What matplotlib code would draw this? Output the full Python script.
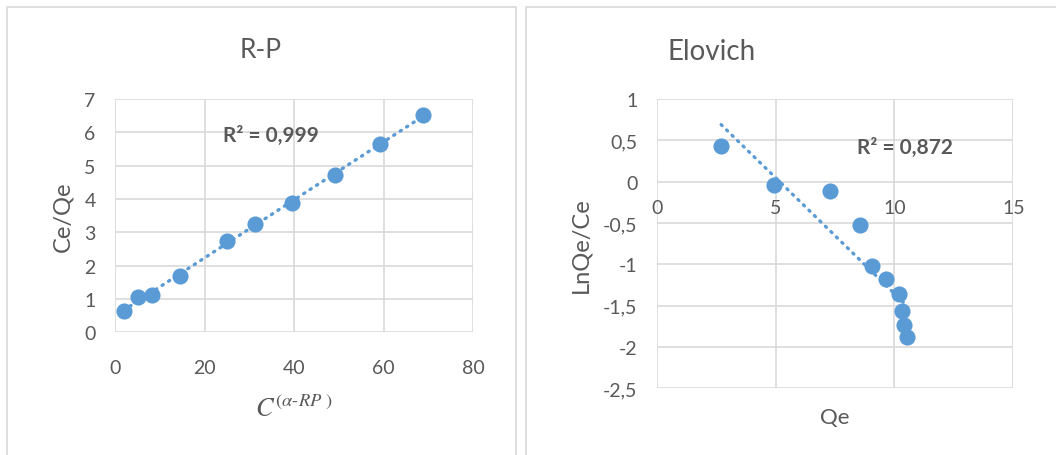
import numpy as np
import matplotlib
matplotlib.use('Agg')
import matplotlib.pyplot as plt
import matplotlib.patches as mpatches
from matplotlib.ticker import FuncFormatter

plt.rcParams['font.family'] = ['Lato', 'DejaVu Sans']
plt.rcParams['mathtext.fontset'] = 'stix'

# R-P data
rp_x = [1.9, 5.2, 8.2, 14.5, 25.0, 31.3, 39.5, 49.2, 59.1, 68.8]
rp_y = [0.65, 1.05, 1.13, 1.68, 2.75, 3.25, 3.88, 4.73, 5.65, 6.51]

# Elovich data
el_x = [2.71, 4.95, 7.29, 8.55, 9.04, 9.63, 10.21, 10.33, 10.40, 10.51]
el_y = [0.435, -0.036, -0.109, -0.52, -1.016, -1.18, -1.36, -1.56, -1.73, -1.875]

blue = '#5B9BD5'
grid_c = '#D9D9D9'
text_c = '#595959'

W, H = 1056, 456
fig = plt.figure(figsize=(W / 100, H / 100), dpi=100)

# chart frames
for (x0, w) in [(7, 509), (526, 540)]:
    fig.patches.append(mpatches.Rectangle((x0 / W, -0.1), w / W, (H - 8) / H + 0.1,
                                          transform=fig.transFigure, fill=False,
                                          edgecolor=grid_c, lw=1.2))


def comma(v, pos):
    return ('%g' % v).replace('.', ',')


def style(ax):
    for s in ax.spines.values():
        s.set_visible(False)
    ax.grid(True, color=grid_c, lw=1.2)
    ax.set_axisbelow(True)
    ax.tick_params(length=0, labelsize=14, colors=text_c)


def trend(ax, x, y):
    k, b = np.polyfit(x, y, 1)
    xs = np.array([min(x), max(x)])
    ax.plot(xs, k * xs + b, color=blue, lw=2.4, ls=(0, (0.4, 1.9)),
            dash_capstyle='round', zorder=2)


# left: R-P
ax1 = fig.add_axes([115 / W, 1 - 333.3 / H, (473.3 - 115) / W, 233.3 / H])
style(ax1)
ax1.set_xlim(0, 80)
ax1.set_ylim(0, 7)
ax1.set_xticks([0, 20, 40, 60, 80])
ax1.set_yticks(range(0, 8))
ax1.tick_params(axis='x', pad=19)
ax1.tick_params(axis='y', pad=14)
trend(ax1, rp_x, rp_y)
ax1.scatter(rp_x, rp_y, s=135, color=blue, zorder=3, linewidths=0)
ax1.text(24.2, 5.92, 'R² = 0,999', fontsize=15, fontweight='bold', color=text_c,
         va='center', ha='left')
fig.text(261 / W, 1 - 50 / H, 'R-P', fontsize=19, color=text_c, ha='center', va='center')
ax1.set_ylabel('Ce/Qe', fontsize=17, color=text_c, labelpad=8)
ax1.set_xlabel(r'$C^{(\alpha\text{-}RP\ )}$', fontsize=19, color=text_c, labelpad=14)

# right: Elovich
ax2 = fig.add_axes([656.7 / W, 1 - 389.3 / H, (1013.3 - 656.7) / W, 289.3 / H])
style(ax2)
ax2.set_xlim(0, 15)
ax2.set_ylim(-2.5, 1)
ax2.set_xticks([0, 5, 10, 15])
ax2.set_yticks(np.arange(-2.5, 1.01, 0.5))
ax2.yaxis.set_major_formatter(FuncFormatter(comma))
ax2.tick_params(axis='y', pad=14)
# x tick labels sit just under the zero line
for xv in [0, 5, 10, 15]:
    ax2.text(xv, -0.21, str(xv), fontsize=14, color=text_c, ha='center', va='top')
ax2.set_xticklabels([])
trend(ax2, el_x, el_y)
ax2.scatter(el_x, el_y, s=135, color=blue, zorder=3, linewidths=0)
ax2.text(8.41, 0.416, 'R² = 0,872', fontsize=15, fontweight='bold', color=text_c,
         va='center', ha='left')
fig.text(667 / W, 1 - 52 / H, 'Elovich', fontsize=20, color=text_c, ha='left', va='center')
ax2.set_ylabel('LnQe/Ce', fontsize=17, color=text_c, labelpad=8)
ax2.set_xlabel('Qe', fontsize=16, color=text_c, labelpad=10)

fig.savefig('out.png', dpi=100)
